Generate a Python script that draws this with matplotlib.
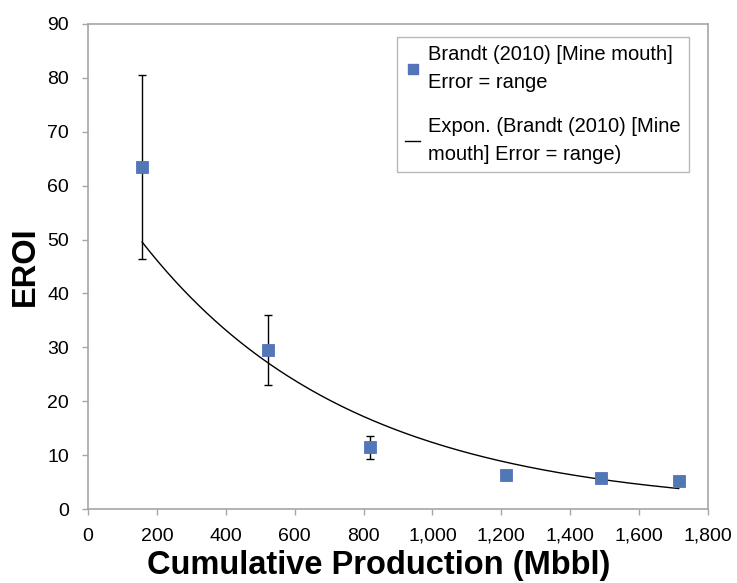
import numpy as np
import matplotlib
matplotlib.use("Agg")
import matplotlib.pyplot as plt
from matplotlib.lines import Line2D

plt.rcParams['font.family'] = ['Liberation Sans', 'DejaVu Sans']

# Data
cum_production = [157, 522, 818, 1213, 1488, 1715]
eroi = [63.4, 29.5, 11.5, 6.3, 5.8, 5.2]
err_low = [46.3, 23.0, 9.3, 5.4, 5.3, 4.7]
err_high = [80.5, 36.0, 13.6, 7.2, 6.3, 5.7]

x_ticks = [0, 200, 400, 600, 800, 1000, 1200, 1400, 1600, 1800]
x_tick_labels = ['0', '200', '400', '600', '800', '1,000', '1,200', '1,400', '1,600', '1,800']
y_ticks = [0, 10, 20, 30, 40, 50, 60, 70, 80, 90]

label_series = "Brandt (2010) [Mine mouth]\nError = range"
label_trend = "Expon. (Brandt (2010) [Mine\nmouth] Error = range)"

x = np.array(cum_production, dtype=float)
y = np.array(eroi, dtype=float)
yerr = np.array([y - np.array(err_low), np.array(err_high) - y])

# Exponential trendline (least squares on log values, like Excel)
b, ln_a = np.polyfit(x, np.log(y), 1)
xt = np.linspace(x.min(), x.max(), 200)
yt = np.exp(ln_a) * np.exp(b * xt)

fig = plt.figure(figsize=(7.37, 5.83), dpi=100)
ax = fig.add_axes([88 / 737, 1 - 509 / 583, 620 / 737, 485 / 583])

marker_color = '#4F78B4'
ax.errorbar(x, y, yerr=yerr, fmt='none', ecolor='black', elinewidth=1.0,
            capsize=3.2, capthick=1.0, zorder=2)
ax.plot(xt, yt, color='black', lw=1.0, zorder=3)
ax.plot(x, y, 's', color=marker_color, markeredgecolor='#5A6FC0',
        markeredgewidth=0.6, markersize=8.5, zorder=4)

ax.set_xlim(0, 1800)
ax.set_ylim(0, 90)
ax.set_xticks(x_ticks)
ax.set_xticklabels(x_tick_labels)
ax.set_yticks(y_ticks)
for s in ax.spines.values():
    s.set_color('#A6A6A6')
    s.set_linewidth(1.2)
ax.tick_params(axis='both', direction='out', length=4.5, width=1.0, color='#A6A6A6',
               labelsize=14)
ax.tick_params(axis='x', pad=9)
ax.tick_params(axis='y', pad=9)

ax.set_xlabel('Cumulative Production (Mbbl)', fontsize=23.5, fontweight='bold')
ax.set_ylabel('EROI', fontsize=23.5, fontweight='bold')
ax.xaxis.set_label_coords(0.4685, -0.085)
ax.yaxis.set_label_coords(-0.0755, 0.5)

handles = [
    Line2D([], [], marker='s', linestyle='none', color=marker_color,
           markeredgecolor='#5A6FC0', markersize=7),
    Line2D([], [], color='black', lw=1.0),
]
leg = fig.legend(handles, [label_series, label_trend], loc='upper left',
                 bbox_to_anchor=(397 / 737, 1 - 37 / 583), fontsize=14.5,
                 frameon=True, fancybox=False, edgecolor='#A6A6A6',
                 handlelength=0.7, handletextpad=0.42, labelspacing=1.2,
                 borderpad=0.42, borderaxespad=0)
leg.get_frame().set_linewidth(1.0)
for t in leg.get_texts():
    t.set_linespacing(1.6)

fig.savefig('out.png', dpi=100)
